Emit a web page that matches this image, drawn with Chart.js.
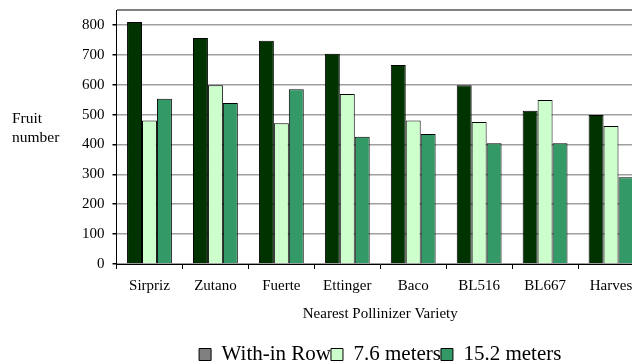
<!DOCTYPE html>
<html>
<head>
<meta charset="utf-8">
<style>
  html, body { margin: 0; padding: 0; background: #fff; overflow: hidden; }
  #wrap { width: 650px; height: 363px; }
</style>
<script src="https://cdn.jsdelivr.net/npm/chart.js@4.4.1/dist/chart.umd.min.js"></script>
</head>
<body>
<div id="wrap"><canvas id="fruitChart" width="650" height="363"></canvas></div>
<script>
// data
const varieties = ['Sirpriz', 'Zutano', 'Fuerte', 'Ettinger', 'Baco', 'BL516', 'BL667', 'Harves'];
const withinRow = [810, 756, 747, 704, 666, 598, 513, 499];
const meters76 = [480, 598, 471, 569, 480, 475, 549, 462];
const meters152 = [553, 539, 585, 426, 435, 404, 404, 290];
const seriesNames = ['With-in Row', '7.6 meters', '15.2 meters'];
const yTickValues = [0, 100, 200, 300, 400, 500, 600, 700, 800];
const yTop = 850;
const yTitle = ['Fruit', 'number'];
const xTitle = 'Nearest Pollinizer Variety';

const serif = "'Liberation Serif', 'Times New Roman', serif";

// y title is horizontal, two lines, left of the ticks
const yTitlePlugin = {
  id: 'yTitle',
  afterDraw(chart) {
    const c = chart.ctx;
    c.save();
    c.font = '15.5px ' + serif;
    c.fillStyle = '#000';
    c.textBaseline = 'middle';
    c.textAlign = 'left';
    c.fillText(yTitle[0], 12, 119);
    c.fillText(yTitle[1], 12, 138);
    c.restore();
  }
};

const ctx = document.getElementById('fruitChart').getContext('2d');
new Chart(ctx, {
  type: 'bar',
  data: {
    labels: varieties,
    datasets: [
      { label: seriesNames[0], data: withinRow, backgroundColor: '#003300' },
      { label: seriesNames[1], data: meters76, backgroundColor: '#CCFFCC' },
      { label: seriesNames[2], data: meters152, backgroundColor: '#339966' }
    ]
  },
  options: {
    responsive: false,
    animation: false,
    layout: { padding: { left: 74, right: 6, top: 10, bottom: -12 } },
    datasets: {
      bar: {
        borderColor: '#000',
        borderWidth: 1,
        barPercentage: 1,
        categoryPercentage: 0.68
      }
    },
    plugins: {
      tooltip: { enabled: false },
      legend: {
        position: 'bottom',
        fullSize: false,
        labels: {
          color: '#000',
          font: { family: serif, size: 21 },
          boxWidth: 12,
          boxHeight: 12,
          padding: 0,
          generateLabels(chart) {
            const items = Chart.defaults.plugins.legend.labels.generateLabels(chart);
            items.forEach(function(it, i) {
              it.strokeStyle = '#000';
              it.lineWidth = 1;
              if (i === 0) it.fillStyle = '#808080';
            });
            return items;
          }
        }
      }
    },
    scales: {
      x: {
        grid: {
          display: true,
          drawOnChartArea: false,
          offset: true,
          color: '#000',
          tickLength: 5
        },
        border: { display: true, color: '#000', width: 1 },
        ticks: {
          color: '#000',
          font: { family: serif, size: 15 },
          padding: 8,
          maxRotation: 0,
          autoSkip: false
        },
        title: {
          display: true,
          text: xTitle,
          color: '#000',
          font: { family: serif, size: 15 },
          padding: { top: 2, bottom: 21 }
        }
      },
      y: {
        min: 0,
        max: yTop,
        afterBuildTicks: function(scale) {
          scale.ticks = yTickValues.concat([yTop]).map(function(v) { return { value: v }; });
        },
        ticks: {
          autoSkip: false,
          color: '#000',
          font: function(c) {
            return { family: serif, size: c.tick && c.tick.value === yTop ? 1 : 15 };
          },
          padding: 8,
          callback: function(v) { return v === yTop ? '' : v; }
        },
        grid: {
          color: function(c) { return c.tick && c.tick.value === yTop ? '#808080' : '#a0a0a0'; },
          lineWidth: function(c) { return c.tick && c.tick.value === yTop ? 2 : 1.5; },
          tickColor: function(c) { return c.tick && c.tick.value === yTop ? 'rgba(0,0,0,0)' : '#000'; },
          tickLength: 4
        },
        border: { display: true, color: '#000', width: 1 }
      }
    }
  },
  plugins: [yTitlePlugin]
});
</script>
</body>
</html>
